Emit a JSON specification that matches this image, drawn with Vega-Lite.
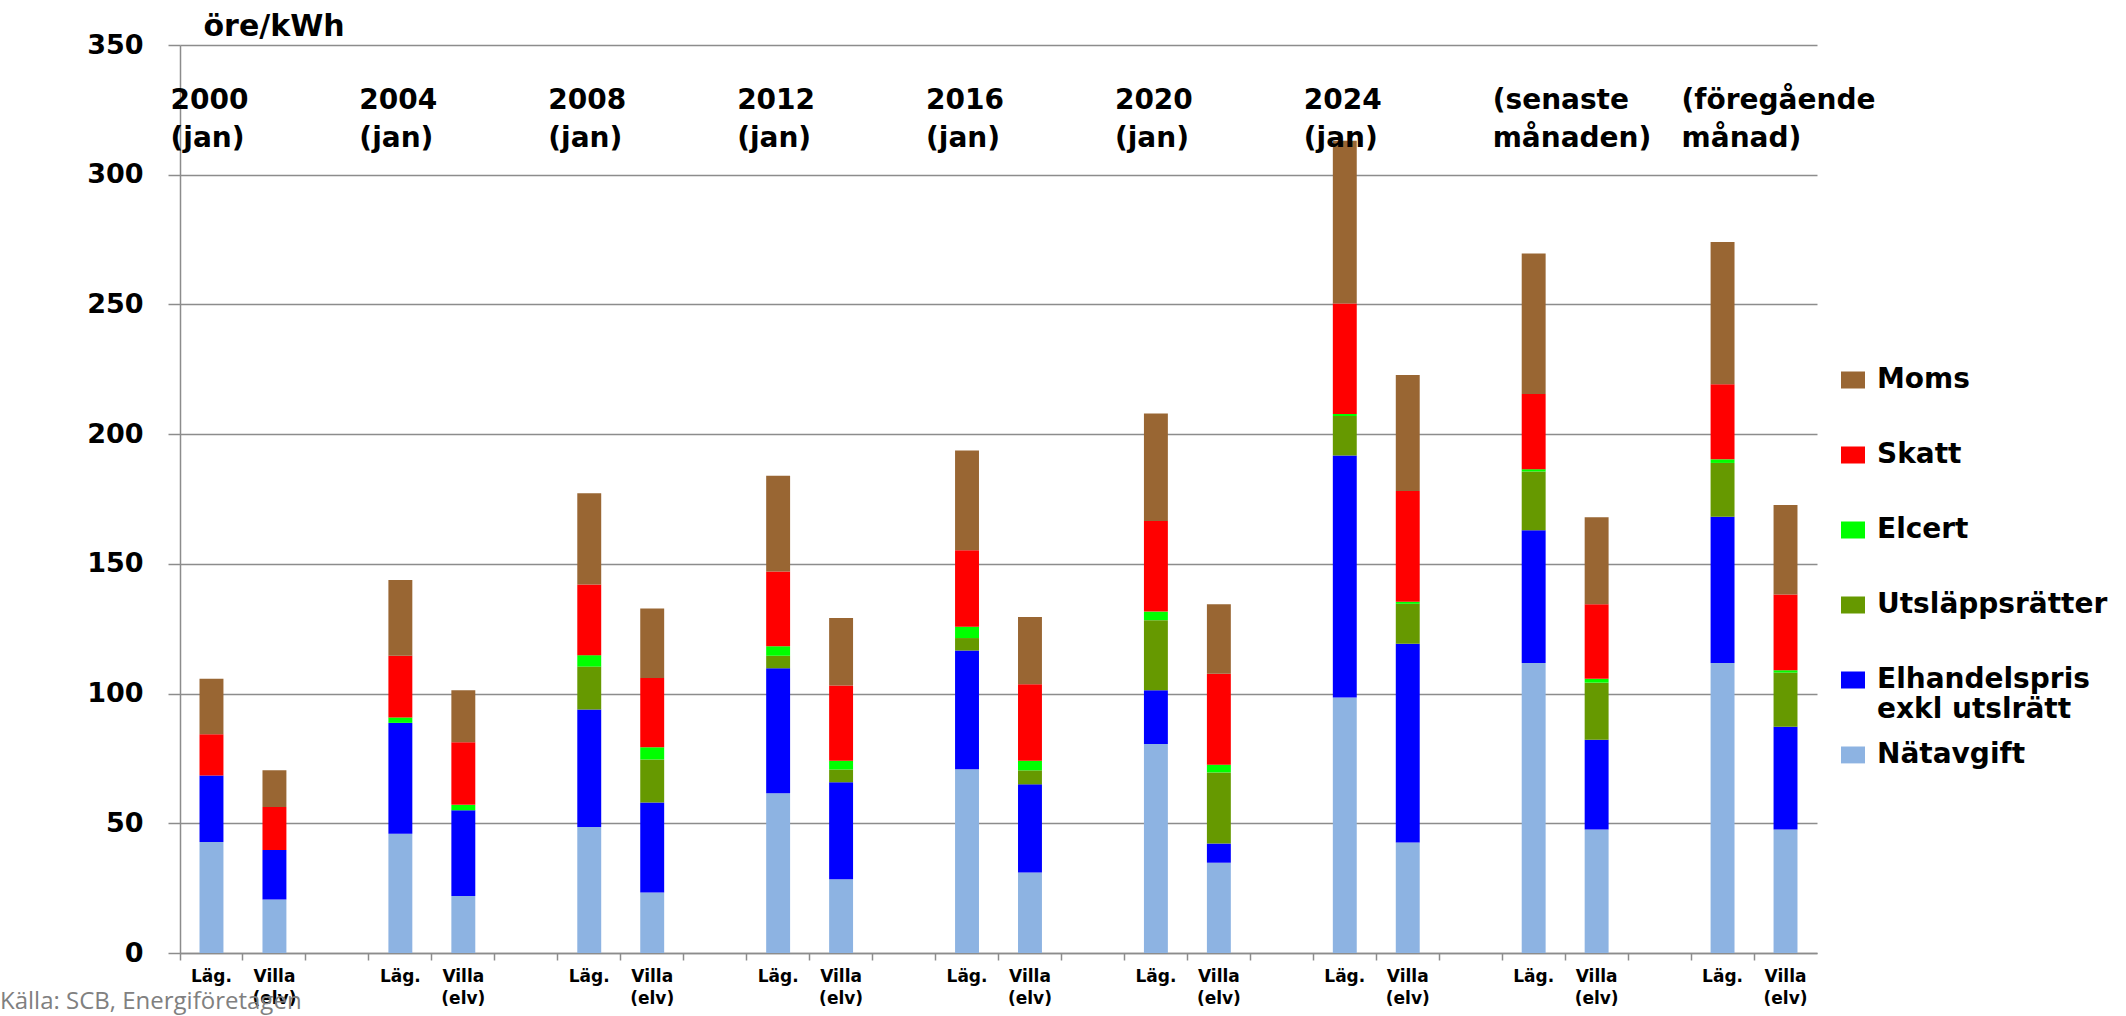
{
  "$schema": "https://vega.github.io/schema/vega-lite/v6.json",
  "width": 1637,
  "height": 908,
  "autosize": {"type": "none"},
  "padding": {"left": 180, "top": 45, "right": 309, "bottom": 63},
  "background": "white",
  "config": {"view": {"stroke": null}, "font": "DejaVu Sans"},
  "title": {
    "text": "Källa: SCB, Energiföretagen",
    "orient": "bottom",
    "anchor": "start",
    "frame": "group",
    "dx": -180,
    "offset": 0,
    "dy": -16,
    "font": "Open Sans",
    "fontSize": 24,
    "fontWeight": "normal",
    "color": "#808080"
  },
  "datasets": {
    "priser": [
      {"kat": "2000 Läg", "Nätavgift": 42.8, "Elhandelspris": 25.6, "Utsläppsrätter": 0, "Elcert": 0, "Skatt": 15.9, "Moms": 21.4},
      {"kat": "2000 Villa", "Nätavgift": 20.6, "Elhandelspris": 19.1, "Utsläppsrätter": 0, "Elcert": 0, "Skatt": 16.6, "Moms": 14.1},
      {"kat": "2004 Läg", "Nätavgift": 46.0, "Elhandelspris": 42.7, "Utsläppsrätter": 0, "Elcert": 2.1, "Skatt": 23.8, "Moms": 29.2},
      {"kat": "2004 Villa", "Nätavgift": 22.0, "Elhandelspris": 33.0, "Utsläppsrätter": 0, "Elcert": 2.1, "Skatt": 24.1, "Moms": 20.1},
      {"kat": "2008 Läg", "Nätavgift": 48.6, "Elhandelspris": 45.3, "Utsläppsrätter": 16.5, "Elcert": 4.4, "Skatt": 27.2, "Moms": 35.2},
      {"kat": "2008 Villa", "Nätavgift": 23.3, "Elhandelspris": 34.7, "Utsläppsrätter": 16.6, "Elcert": 4.7, "Skatt": 26.7, "Moms": 26.8},
      {"kat": "2012 Läg", "Nätavgift": 61.6, "Elhandelspris": 48.2, "Utsläppsrätter": 4.8, "Elcert": 3.6, "Skatt": 28.9, "Moms": 36.9},
      {"kat": "2012 Villa", "Nätavgift": 28.4, "Elhandelspris": 37.4, "Utsläppsrätter": 4.9, "Elcert": 3.4, "Skatt": 29.0, "Moms": 26.0},
      {"kat": "2016 Läg", "Nätavgift": 70.8, "Elhandelspris": 45.8, "Utsläppsrätter": 4.8, "Elcert": 4.4, "Skatt": 29.4, "Moms": 38.5},
      {"kat": "2016 Villa", "Nätavgift": 31.0, "Elhandelspris": 34.0, "Utsläppsrätter": 5.4, "Elcert": 3.7, "Skatt": 29.5, "Moms": 25.9},
      {"kat": "2020 Läg", "Nätavgift": 80.6, "Elhandelspris": 20.7, "Utsläppsrätter": 27.0, "Elcert": 3.3, "Skatt": 34.9, "Moms": 41.5},
      {"kat": "2020 Villa", "Nätavgift": 34.8, "Elhandelspris": 7.4, "Utsläppsrätter": 27.4, "Elcert": 3.0, "Skatt": 35.0, "Moms": 26.8},
      {"kat": "2024 Läg", "Nätavgift": 98.5, "Elhandelspris": 93.3, "Utsläppsrätter": 15.2, "Elcert": 0.8, "Skatt": 42.6, "Moms": 62.7},
      {"kat": "2024 Villa", "Nätavgift": 42.6, "Elhandelspris": 76.6, "Utsläppsrätter": 15.4, "Elcert": 0.8, "Skatt": 42.7, "Moms": 44.7},
      {"kat": "senaste Läg", "Nätavgift": 111.8, "Elhandelspris": 51.2, "Utsläppsrätter": 22.6, "Elcert": 0.9, "Skatt": 29.0, "Moms": 54.1},
      {"kat": "senaste Villa", "Nätavgift": 47.6, "Elhandelspris": 34.6, "Utsläppsrätter": 22.0, "Elcert": 1.5, "Skatt": 28.7, "Moms": 33.6},
      {"kat": "föreg Läg", "Nätavgift": 111.8, "Elhandelspris": 56.4, "Utsläppsrätter": 20.7, "Elcert": 1.4, "Skatt": 28.9, "Moms": 54.9},
      {"kat": "föreg Villa", "Nätavgift": 47.6, "Elhandelspris": 39.6, "Utsläppsrätter": 20.9, "Elcert": 0.9, "Skatt": 29.2, "Moms": 34.5}
    ],
    "komponenter": [
      {"komp": "Nätavgift", "ordning": 1},
      {"komp": "Elhandelspris", "ordning": 2},
      {"komp": "Utsläppsrätter", "ordning": 3},
      {"komp": "Elcert", "ordning": 4},
      {"komp": "Skatt", "ordning": 5},
      {"komp": "Moms", "ordning": 6}
    ],
    "etiketter": [
      {"kat": "2000 Läg", "text": "2000\n(jan)"},
      {"kat": "2004 Läg", "text": "2004\n(jan)"},
      {"kat": "2008 Läg", "text": "2008\n(jan)"},
      {"kat": "2012 Läg", "text": "2012\n(jan)"},
      {"kat": "2016 Läg", "text": "2016\n(jan)"},
      {"kat": "2020 Läg", "text": "2020\n(jan)"},
      {"kat": "2024 Läg", "text": "2024\n(jan)"},
      {"kat": "senaste Läg", "text": "(senaste\nmånaden)"},
      {"kat": "föreg Läg", "text": "(föregående\nmånad)"}
    ]
  },
  "layer": [
    {
      "data": {"name": "priser"},
      "transform": [
        {"fold": ["Nätavgift", "Elhandelspris", "Utsläppsrätter", "Elcert", "Skatt", "Moms"], "as": ["komp", "v"]},
        {"lookup": "komp", "from": {"data": {"name": "komponenter"}, "key": "komp", "fields": ["ordning"]}}
      ],
      "mark": {"type": "bar", "width": {"band": 0.38}},
      "encoding": {
        "x": {
          "field": "kat",
          "type": "nominal",
          "sort": null,
          "scale": {
            "domain": ["2000 Läg", "2000 Villa", "2000 tom", "2004 Läg", "2004 Villa", "2004 tom", "2008 Läg", "2008 Villa", "2008 tom", "2012 Läg", "2012 Villa", "2012 tom", "2016 Läg", "2016 Villa", "2016 tom", "2020 Läg", "2020 Villa", "2020 tom", "2024 Läg", "2024 Villa", "2024 tom", "senaste Läg", "senaste Villa", "senaste tom", "föreg Läg", "föreg Villa"],
            "paddingInner": 0,
            "paddingOuter": 0
          },
          "axis": {
            "title": null,
            "labelExpr": "indexof(datum.value, 'Läg') >= 0 ? 'Läg.' : (indexof(datum.value, 'Villa') >= 0 ? ['Villa', '(elv)'] : '')",
            "labelAngle": 0,
            "labelOverlap": false,
            "bandPosition": 0,
            "tickSize": 7,
            "tickWidth": 1.5,
            "tickColor": "#8c8c8c",
            "domainColor": "#8c8c8c",
            "domainWidth": 1.5,
            "labelPadding": 8,
            "labelFont": "DejaVu Sans",
            "labelFontWeight": "bold",
            "labelFontSize": 17,
            "labelColor": "#000000",
            "labelBaseline": "top",
            "labelLineHeight": 22,
            "grid": false
          }
        },
        "y": {
          "field": "v",
          "type": "quantitative",
          "stack": "zero",
          "scale": {"domain": [0, 350], "nice": false},
          "axis": {
            "values": [0, 50, 100, 150, 200, 250, 300, 350],
            "title": "öre/kWh",
            "titleAngle": 0,
            "titleAlign": "left",
            "titleBaseline": "middle",
            "titleX": 23,
            "titleY": -19,
            "titleFont": "DejaVu Sans",
            "titleFontWeight": "bold",
            "titleFontSize": 30,
            "titleColor": "#000000",
            "labelFont": "DejaVu Sans",
            "labelFontWeight": "bold",
            "labelFontSize": 27,
            "labelColor": "#000000",
            "labelPadding": 25,
            "tickSize": 12,
            "tickWidth": 1.5,
            "tickColor": "#8c8c8c",
            "domainColor": "#8c8c8c",
            "domainWidth": 1.5,
            "grid": true,
            "gridColor": "#8c8c8c",
            "gridWidth": 1.5
          }
        },
        "color": {
          "field": "komp",
          "type": "nominal",
          "scale": {
            "domain": ["Moms", "Skatt", "Elcert", "Utsläppsrätter", "Elhandelspris", "Nätavgift"],
            "range": ["#996633", "#ff0000", "#00ff00", "#669900", "#0000ff", "#8db3e2"]
          },
          "legend": {
            "orient": "none",
            "legendX": 1659,
            "legendY": 322,
            "title": null,
            "padding": 0,
            "symbolType": "M-1,-0.7H1V0.7H-1Z",
            "symbolSize": 576,
            "symbolStrokeWidth": 0,
            "symbolOpacity": 1,
            "labelFont": "DejaVu Sans",
            "labelFontWeight": "bold",
            "labelFontSize": 28,
            "labelColor": "#000000",
            "labelOffset": 10,
            "labelLimit": 0,
            "labelLineHeight": 38,
            "rowPadding": 17,
            "clipHeight": 26,
            "labelExpr": "datum.label == 'Elhandelspris' ? ['Elhandelspris', 'exkl utslrätt'] : [datum.label, '']"
          }
        },
        "order": {"field": "ordning", "type": "quantitative", "sort": "ascending"}
      }
    },
    {
      "data": {"name": "etiketter"},
      "mark": {
        "type": "text",
        "align": "left",
        "baseline": "top",
        "dx": -41,
        "lineBreak": "\n",
        "font": "DejaVu Sans",
        "fontWeight": "bold",
        "fontSize": 28,
        "lineHeight": 38,
        "color": "#000000"
      },
      "encoding": {
        "x": {"field": "kat", "type": "nominal", "sort": null},
        "y": {"datum": 334, "type": "quantitative"},
        "text": {"field": "text", "type": "nominal"}
      }
    }
  ]
}
